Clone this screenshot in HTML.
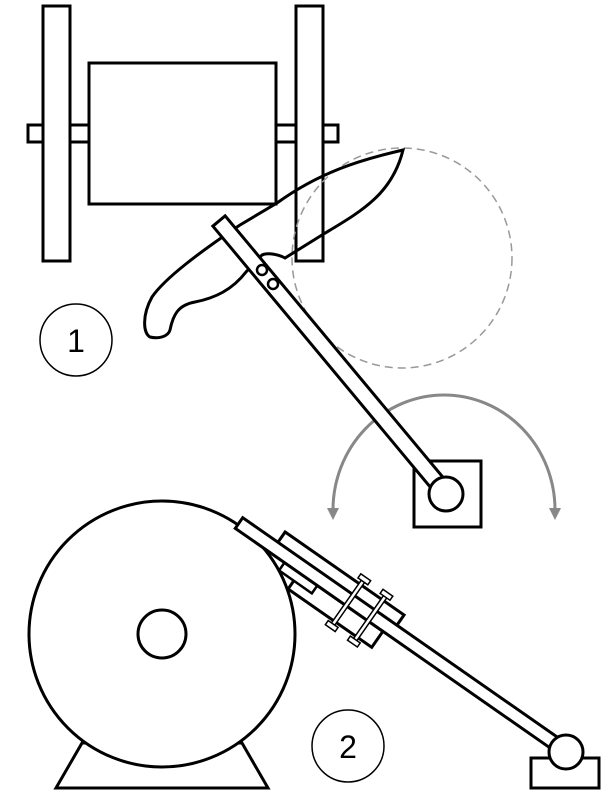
<!DOCTYPE html>
<html><head><style>html,body{margin:0;padding:0;background:#fff}</style></head>
<body>
<svg width="610" height="800" viewBox="0 0 610 800" xmlns="http://www.w3.org/2000/svg" font-family="Liberation Sans, sans-serif">
<g fill="#fff" stroke="#000" stroke-width="3">
  <rect x="28" y="125" width="310" height="17"/>
  <rect x="43" y="6" width="27" height="255"/>
  <rect x="296" y="6" width="27" height="255"/>
  <rect x="89" y="63" width="187" height="141"/>
</g>
<circle cx="402" cy="258" r="110" fill="none" stroke="#999" stroke-width="1.5" stroke-dasharray="8,5"/>
<path d="M403,150 C360,160 320,172 277,203 L240,225 C200,252 165,278 152,297 C142,315 143,333 150,337 C158,339 168,337 170,330 C173,315 178,305 195,302 C215,298 232,290 246,272 L262,255 C268,252 280,255 285,258 L322,235 C360,212 392,195 403,150 Z" fill="none" stroke="#000" stroke-width="3"/>
<path d="M333,510 A111,115 0 0 1 555,510" fill="none" stroke="#888" stroke-width="3"/>
<polygon points="327,508 339,508 333,520" fill="#888"/>
<polygon points="549,508 561,508 555,520" fill="#888"/>
<rect x="414" y="461" width="67" height="66" fill="#fff" stroke="#000" stroke-width="3"/>
<g transform="translate(219,221) rotate(50.2)">
  <rect x="0" y="-8" width="354" height="16" fill="#fff" stroke="#000" stroke-width="3"/>
</g>
<circle cx="262" cy="270" r="5" fill="#fff" stroke="#000" stroke-width="2.5"/>
<circle cx="273" cy="284" r="5" fill="#fff" stroke="#000" stroke-width="2.5"/>
<circle cx="446" cy="494" r="17" fill="#fff" stroke="#000" stroke-width="3"/>
<circle cx="76" cy="340" r="36" fill="#fff" stroke="#000" stroke-width="1.5"/>
<text x="76" y="352" font-size="32" text-anchor="middle">1</text>

<polygon points="82,743 56,788 268,788 242,743" fill="#fff" stroke="#000" stroke-width="3"/>
<circle cx="162" cy="634" r="133" fill="#fff" stroke="#000" stroke-width="3"/>
<circle cx="162" cy="634" r="24" fill="#fff" stroke="#000" stroke-width="3"/>
<g transform="translate(239,523) rotate(34.9)" stroke="#000" stroke-width="3" fill="#fff">
  <rect x="43" y="-19" width="145" height="13"/>
  <polygon points="78,6.5 78,26 180,26 180,6.5"/>
  <polygon points="60,6.5 60,16 100,16 100,6.5" stroke-width="2.5"/>
  <rect x="0" y="-6.5" width="400" height="13"/>
  <g stroke-width="1.5">
    <rect x="133" y="-24" width="4" height="54"/>
    <rect x="160" y="-24" width="4" height="54"/>
    <rect x="129" y="-28" width="12" height="5"/>
    <rect x="129" y="29" width="12" height="5"/>
    <rect x="156" y="-28" width="12" height="5"/>
    <rect x="156" y="29" width="12" height="5"/>
  </g>
</g>
<rect x="531" y="758" width="68" height="30" fill="#fff" stroke="#000" stroke-width="3"/>
<circle cx="566" cy="752" r="17" fill="#fff" stroke="#000" stroke-width="3"/>
<circle cx="348" cy="746" r="36" fill="#fff" stroke="#000" stroke-width="1.5"/>
<text x="348" y="758" font-size="32" text-anchor="middle">2</text>
</svg>
</body></html>
